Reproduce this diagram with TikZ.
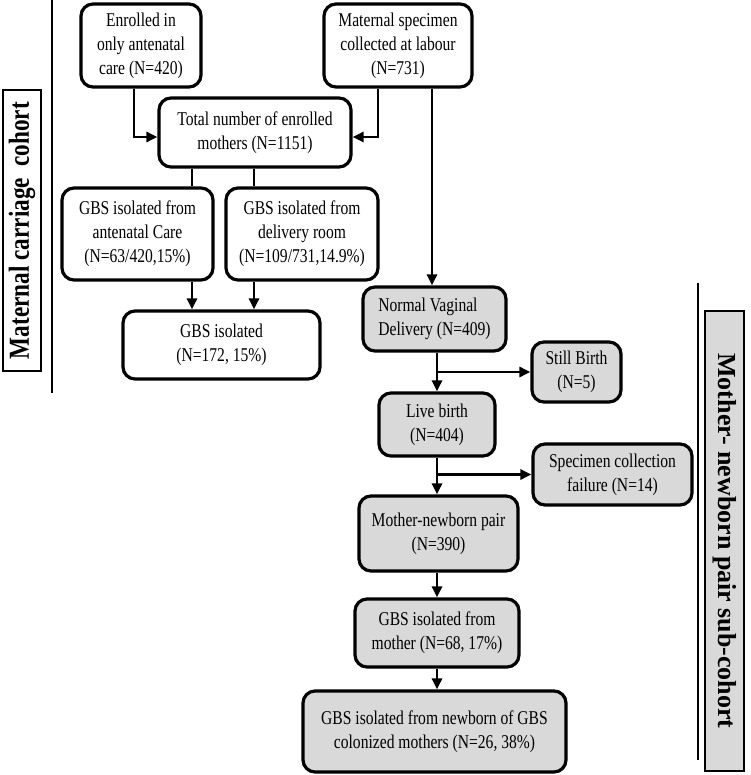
\documentclass[tikz,border=0pt]{standalone}
\usepackage{fontspec}
\setmainfont{Liberation Serif}[FakeStretch=0.8]
\newfontfamily\rlabfont{Liberation Serif}
\usetikzlibrary{arrows.meta,calc}
\definecolor{boxgray}{RGB}{217,217,217}
\begin{document}
\begin{tikzpicture}[x=1pt,y=-1pt,
  box/.style={draw, line width=3.2pt, rounded corners=12pt, align=center, inner sep=0pt, fill=white,
    font=\fontsize{19.5}{24}\selectfont},
  gbox/.style={box, fill=boxgray},
  arr/.style={line width=2.8pt, -{Triangle[length=11pt,width=10pt]}},
  ln/.style={line width=2.8pt},
  labbox/.style={draw, line width=2.4pt, inner sep=0pt}]
\useasboundingbox (0,0) rectangle (750,775);
% side lines
\draw[ln] (52,0) -- (52,393);
\draw[ln] (698,283) -- (698,760);
% side labels
\node[labbox, fill=white, rotate=90, minimum width=281pt, minimum height=38pt,
  font=\fontsize{29}{30}\selectfont\bfseries] (ll) at (22,230.5) {Maternal carriage~ cohort};
\node[labbox, fill=boxgray, rotate=-90, minimum width=460pt, minimum height=39pt,
  font=\rlabfont\fontsize{26}{28}\selectfont\bfseries] (rl) at (724.5,541) {Mother- newborn pair sub-cohort};
% boxes
\node[box, minimum width=120pt, minimum height=83pt] (b1) at (141,45.5) {Enrolled in\\only antenatal\\care (N=420)};
\node[box, minimum width=148pt, minimum height=83pt] (b2) at (398,45.5) {Maternal specimen\\collected at labour\\(N=731)};
\node[box, minimum width=192pt, minimum height=69pt] (tot) at (255,132.5) {Total number of enrolled\\mothers (N=1151)};
\node[box, minimum width=151pt, minimum height=92pt] (gan) at (137.5,234) {GBS isolated from\\antenatal Care\\(N=63/420,15\%)};
\node[box, minimum width=152pt, minimum height=92pt] (gdr) at (302,234) {GBS isolated from\\delivery room\\(N=109/731,14.9\%)};
\node[box, minimum width=197pt, minimum height=68pt] (giso) at (221.5,345) {GBS isolated\\(N=172, 15\%)};
\node[gbox, align=left, minimum width=143pt, minimum height=64pt] (nvd) at (434.5,319) {Normal Vaginal\\Delivery (N=409)};
\node[gbox, minimum width=89pt, minimum height=60pt] (sb) at (576.5,372) {Still Birth\\(N=5)};
\node[gbox, minimum width=116pt, minimum height=63pt] (lb) at (437,424.5) {Live birth\\(N=404)};
\node[gbox, minimum width=159pt, minimum height=61pt] (scf) at (612.5,474.5) {Specimen collection\\failure (N=14)};
\node[gbox, minimum width=159pt, minimum height=75pt] (mnp) at (438.5,533.5) {Mother-newborn pair\\(N=390)};
\node[gbox, minimum width=164pt, minimum height=68pt] (gm) at (437,633) {GBS isolated from\\mother (N=68, 17\%)};
\node[gbox, minimum width=263pt, minimum height=81pt] (nb) at (434.5,731.5) {GBS isolated from newborn of GBS\\colonized mothers (N=26, 38\%)};
% connectors
\draw[arr] ([xshift=-7pt]b1.south) |- ([yshift=-4.5pt]tot.west);
\draw[arr] ([xshift=-20pt]b2.south) |- ([yshift=-4.5pt]tot.east);
\draw[arr] ([xshift=34pt]b2.south) -- ([xshift=34pt]b2.south |- nvd.north);
\draw[ln] ([xshift=-63pt]tot.south) -- ([xshift=-63pt]tot.south |- gan.north);
\draw[ln] ([xshift=-1pt]tot.south) -- ([xshift=-1pt]tot.south |- gdr.north);
\draw[arr] ([xshift=54.5pt]gan.south) -- ([xshift=54.5pt]gan.south |- giso.north);
\draw[arr] ([xshift=-48pt]gdr.south) -- ([xshift=-48pt]gdr.south |- giso.north);
\draw[arr] (nvd.south -| lb.north) -- (lb.north);
\draw[arr] (lb.north |- sb.west) -- (sb.west);
\draw[arr] (lb.south) -- (lb.south |- mnp.north);
\draw[arr] (lb.south |- scf.west) -- (scf.west);
\draw[arr] (mnp.south -| gm.north) -- (gm.north);
\draw[arr] (gm.south) -- (gm.south |- nb.north);
\end{tikzpicture}
\end{document}
